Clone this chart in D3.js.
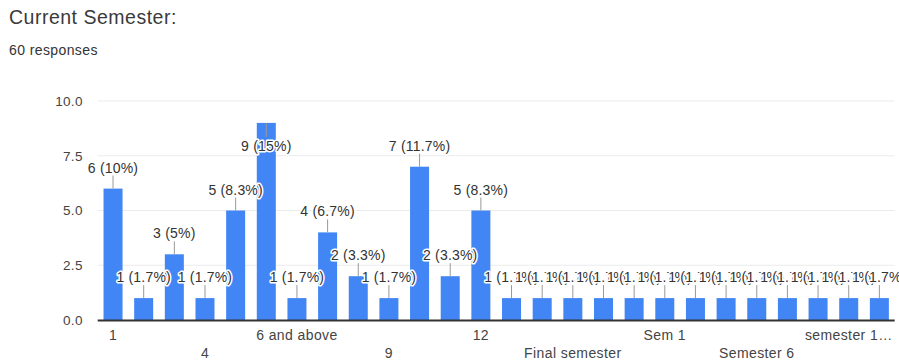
<!DOCTYPE html>
<html><head><meta charset="utf-8">
<script src="https://cdn.jsdelivr.net/npm/d3@7"></script>
<style>
html,body{margin:0;padding:0;background:#fff;}
svg{display:block;}
</style></head>
<body>
<svg id="chart" width="899" height="364"></svg>
<script>
(function(){
const title = "Current Semester:";
const subtitle = "60 responses";
const categories = ["1","2","3","4","5","6","6 and above","7","8","9","10","11","12",
  "2nd year","3rd","Final semester","First","Fourth","Sem 1","Sem 3","Sem 5",
  "Semester 6","Semester 8","Third","semester 10 (final)","sixth"];
const values = [6,1,3,1,5,9,1,4,2,1,7,2,5,1,1,1,1,1,1,1,1,1,1,1,1,1];
const yTicks = [0,2.5,5,7.5,10];

const W = 899, H = 364;
const pLeft = 97.7, pRight = 894.7, pTop = 101, pBottom = 320;
const total = d3.sum(values);
const svg = d3.select("#chart");
const font = "Liberation Sans, Arial, sans-serif";

svg.append("text").attr("x",9).attr("y",24).attr("font-family",font)
  .attr("font-size",19.5).attr("letter-spacing",0.5).attr("fill","#3a3a3a").text(title);
svg.append("text").attr("x",9).attr("y",55).attr("font-family",font)
  .attr("font-size",14).attr("letter-spacing",0.4).attr("fill","#333").text(subtitle);

const x = d3.scaleBand().domain(categories).range([pLeft,pRight]).paddingInner(0.38).paddingOuter(0.19);
const y = d3.scaleLinear().domain([0,10]).range([pBottom,pTop]);

svg.append("g").selectAll("line").data(yTicks.filter(t=>t>0)).join("line")
  .attr("x1",pLeft).attr("x2",pRight).attr("y1",d=>y(d)).attr("y2",d=>y(d))
  .attr("stroke","#ebebeb").attr("stroke-width",1);

const yAxis = d3.axisLeft(y).tickValues(yTicks).tickFormat(d3.format(".1f")).tickSize(0).tickPadding(15);
const gy = svg.append("g").attr("transform",`translate(${pLeft},0)`).call(yAxis);
gy.select(".domain").remove();
gy.selectAll("text").attr("font-family",font).attr("font-size",13.5).attr("letter-spacing",0.3).attr("fill","#444");

const data = categories.map((c,i)=>({c, v: values[i]}));
svg.append("g").selectAll("rect").data(data).join("rect")
  .attr("x",d=>x(d.c)).attr("width",x.bandwidth())
  .attr("y",d=>y(d.v)).attr("height",d=>pBottom - y(d.v))
  .attr("fill","#4285f4");

svg.append("line").attr("x1",pLeft).attr("x2",pRight).attr("y1",pBottom+0.5).attr("y2",pBottom+0.5)
  .attr("stroke","#333").attr("stroke-width",2);

const fmtPct = v => String(Math.round(v/total*1000)/10);
const ann = svg.append("g");
data.forEach(d=>{
  const cx = x(d.c) + x.bandwidth()/2;
  const t = y(d.v);
  const flip = (t - 26) < pTop;
  const ly2 = flip ? t + 14 : t - 13;
  ann.append("line").attr("x1",cx).attr("x2",cx).attr("y1",t).attr("y2",ly2)
    .attr("stroke","#999").attr("stroke-width",1);
  const ty = flip ? t + 28 : t - 16;
  const label = `${d.v} (${fmtPct(d.v)}%)`;
  ann.append("text").attr("x",cx).attr("y",ty).attr("text-anchor","middle")
    .attr("font-family",font).attr("font-size",14).attr("letter-spacing",0.2)
    .attr("stroke","#fff").attr("stroke-width",3).attr("stroke-linejoin","round")
    .attr("paint-order","stroke").attr("fill","#333").text(label);
});

const xl = svg.append("g");
categories.forEach((c,i)=>{
  if (i % 3 !== 0) return;
  const row = (i/3) % 2;
  const cx = x(c) + x.bandwidth()/2;
  const txt = xl.append("text").attr("x",cx).attr("y", row===0 ? 340 : 358)
    .attr("text-anchor","middle").attr("font-family",font).attr("font-size",14)
    .attr("letter-spacing",0.4).attr("fill","#444").text(c);
  let s = c;
  while (txt.node().getComputedTextLength()/2 + cx > W - 3 && s.length > 1) {
    s = s.slice(0,-1);
    txt.text(s + "…");
  }
});
})();
</script>
</body></html>
